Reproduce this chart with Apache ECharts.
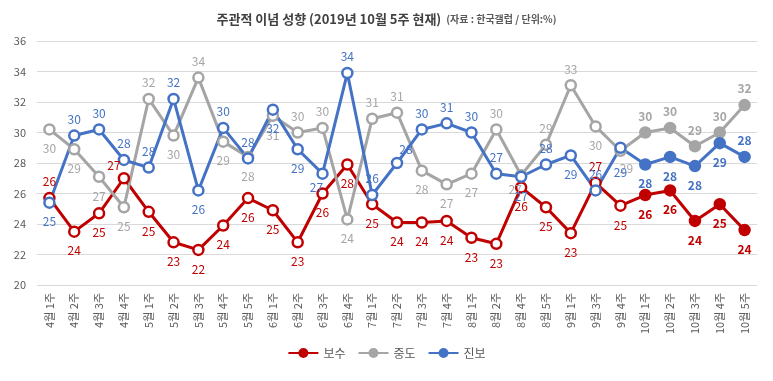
<!DOCTYPE html>
<html><head><meta charset="utf-8">
<script src="https://cdn.jsdelivr.net/npm/echarts@6/dist/echarts.min.js"></script>
<style>html,body{margin:0;padding:0;background:#fff}#c{width:773px;height:381px}</style>
</head><body><div id="c"></div>
<script>
const categories = ['4월 1주','4월 2주','4월 3주','4월 4주','5월 1주','5월 2주','5월 3주','5월 4주','5월 5주','6월 1주','6월 2주','6월 3주','6월 4주','7월 1주','7월 2주','7월 3주','7월 4주','8월 1주','8월 2주','8월 4주','8월 5주','9월 1주','9월 3주','9월 4주','10월 1주','10월 2주','10월 3주','10월 4주','10월 5주'];
const conservative = [25.7,23.5,24.7,27.0,24.8,22.8,22.3,23.9,25.7,24.9,22.8,26.0,27.9,25.3,24.1,24.1,24.2,23.1,22.7,26.4,25.1,23.4,26.7,25.2,25.9,26.2,24.2,25.3,23.6];
const moderate = [30.2,28.9,27.1,25.1,32.2,29.8,33.6,29.4,28.4,31.1,30.0,30.3,24.3,30.9,31.3,27.5,26.6,27.3,30.2,27.2,29.2,33.1,30.4,28.8,30.0,30.3,29.1,30.0,31.8];
const progressive = [25.4,29.8,30.2,28.2,27.7,32.2,26.2,30.3,28.3,31.5,28.9,27.3,33.9,25.9,28.0,30.2,30.6,30.0,27.3,27.1,27.9,28.5,26.2,29.0,27.9,28.4,27.8,29.3,28.4];
const yTicks = [20,22,24,26,28,30,32,34,36];

// label placement codes per point: t=top, b=bottom, L=top-left, R=top-right, l=bottom-left, r=bottom-right, B=far bottom
const consPos = 'tbbLbbbbbbbbbbbbbbbbbbtbbbbbb';
const modPos  = 'bbbbtbtbbbttbttbbbtlttbrttttt';
const progPos = 'btttttbttbblttRttttbtbtBbbbbt';
const filledFrom = 24;

const posMap = {
  t:{position:'top', distance:4},
  b:{position:'bottom', distance:7},
  B:{position:'bottom', distance:12},
  L:{position:'top', distance:1, offset:[-10,0]},
  R:{position:'top', distance:1, offset:[9,0]},
  l:{position:'bottom', distance:2, offset:[-6,0]},
  r:{position:'bottom', distance:5, offset:[6,0]}
};

function mk(name, vals, pos, color, labelColor) {
  return {
    name, type:'line', data: vals.map((v,i)=>({
      value: v,
      symbol: 'circle',
      itemStyle: i>=filledFrom ? {color: color, borderColor: color} : {color:'#fff', borderColor: color},
      label: Object.assign({fontWeight: i>=filledFrom ? 'bold' : 'normal'}, posMap[pos[i]])
    })),
    symbol:'circle', symbolSize: 10,
    lineStyle:{color, width:3},
    itemStyle:{color, borderColor: color, borderWidth:2.5},
    label:{show:true, color: labelColor, fontSize:12, fontFamily:'Noto Sans CJK KR',
      formatter: p => Math.round(p.value)},
    emphasis:{disabled:true},
    z: 3
  };
}

const chart = echarts.init(document.getElementById('c'));
chart.setOption({
  animation:false,
  backgroundColor:'#fff',
  title:{left:'center', top:5,
    text:'{a|주관적 이념 성향 (2019년 10월 5주 현재)} {b|(자료 : 한국갤럽 / 단위:%)}',
    textStyle:{rich:{
      a:{fontSize:13, fontWeight:'bold', color:'#404040', fontFamily:'Noto Sans CJK KR'},
      b:{fontSize:10, color:'#595959', fontFamily:'Noto Sans CJK KR'}
    }}},
  grid:{left:37, right:16, top:41, bottom:96},
  legend:{bottom:17, left:'center', itemGap:12, itemWidth:30, itemHeight:10,
    textStyle:{fontSize:12, color:'#595959', fontFamily:'Noto Sans CJK KR'},
    data:['보수','중도','진보']},
  xAxis:{type:'category', data:categories, boundaryGap:true,
    axisLine:{show:false}, axisTick:{show:false},
    axisLabel:{rotate:90, fontSize:11, color:'#595959', margin:8, interval:0, fontFamily:'Noto Sans CJK KR'}},
  yAxis:{type:'value', min:yTicks[0], max:yTicks[yTicks.length-1], interval:2,
    axisLine:{show:false}, axisTick:{show:false},
    axisLabel:{fontSize:11, color:'#595959', margin:11, fontFamily:'Noto Sans CJK KR'},
    splitLine:{lineStyle:{color:'#d9d9d9', width:1}}},
  series:[
    mk('보수', conservative, consPos, '#c00000', '#c00000'),
    mk('중도', moderate, modPos, '#a5a5a5', '#a6a6a6'),
    mk('진보', progressive, progPos, '#4472c4', '#4472c4')
  ]
});
</script></body></html>
